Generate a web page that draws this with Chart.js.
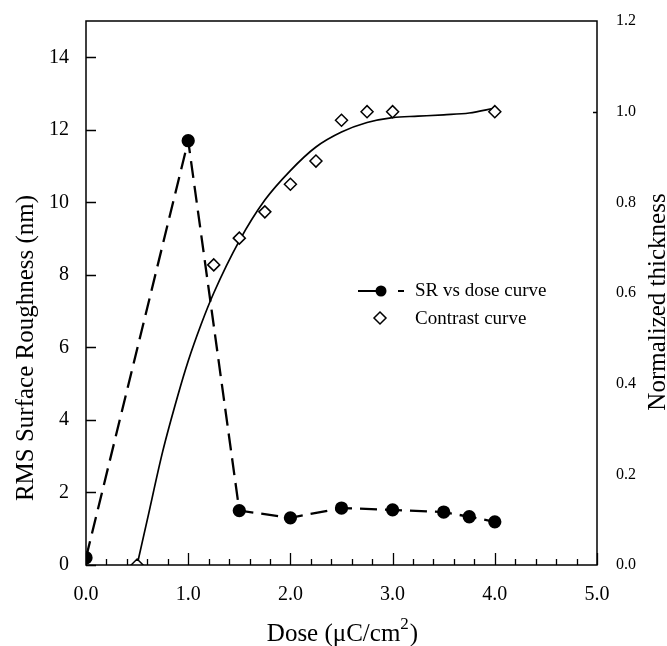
<!DOCTYPE html>
<html>
<head>
<meta charset="utf-8">
<script src="https://cdn.jsdelivr.net/npm/chart.js@4.4.1/dist/chart.umd.min.js"></script>
<style>
  body { margin: 0; background: #fff; }
  #wrap { width: 667px; height: 646px; }
</style>
</head>
<body>
<div id="wrap"><canvas id="chart"></canvas></div>
<script>
// SR vs dose (left axis, nm)
var srDose = [0.0, 1.0, 1.5, 2.0, 2.5, 3.0, 3.5, 3.75, 4.0];
var srValues = [0.2, 11.7, 1.5, 1.3, 1.57, 1.52, 1.46, 1.33, 1.19];
// contrast curve points (right axis, normalized thickness)
var contrastDose = [0.5, 1.25, 1.5, 1.75, 2.0, 2.25, 2.5, 2.75, 3.0, 4.0];
var contrastValues = [0.0, 0.662, 0.721, 0.779, 0.84, 0.891, 0.981, 1.0, 1.0, 1.0];
// fitted contrast line
var fitDose = [0.5, 0.6, 0.75, 0.9, 1.0, 1.125, 1.25, 1.5, 1.75, 2.0, 2.25, 2.5, 2.75, 3.0, 3.25, 3.5, 3.75, 4.0];
var fitValues = [0.0, 0.1, 0.25, 0.375, 0.45, 0.53, 0.6, 0.715, 0.805, 0.87, 0.922, 0.955, 0.976, 0.987, 0.99, 0.993, 0.997, 1.008];
// tick labels
var xTicks = [0, 1, 2, 3, 4, 5];
var leftTicks = [0, 2, 4, 6, 8, 10, 12, 14];
var rightTicks = [0, 0.2, 0.4, 0.6, 0.8, 1.0, 1.2];

var FONT = "'Liberation Serif', 'Times New Roman', serif";

function pts(xs, ys) {
    return xs.map(function (x, i) { return { x: x, y: ys[i] }; });
}

// inward tick marks + box around the plot
var frame = {
    id: 'frame',
    afterDatasetsDraw: function (chart) {
        var c = chart.ctx, a = chart.chartArea;
        var sx = chart.scales.x, sy = chart.scales.y, sy2 = chart.scales.y2;
        c.save();
        c.strokeStyle = '#000';
        c.lineWidth = 1.5;
        c.strokeRect(a.left, a.top, a.right - a.left, a.bottom - a.top);
        c.lineWidth = 1.3;
        c.beginPath();
        for (var i = 0; i <= 25; i++) {
            var px = Math.round(sx.getPixelForValue(i * 0.2)) + 0.5;
            var len = (i % 5 === 0) ? 12 : 6;
            c.moveTo(px, a.bottom);
            c.lineTo(px, a.bottom - len);
        }
        leftTicks.forEach(function (v) {
            var py = Math.round(sy.getPixelForValue(v)) + 0.5;
            c.moveTo(a.left, py);
            c.lineTo(a.left + 10, py);
        });
        var p1 = Math.round(sy2.getPixelForValue(1.0)) + 0.5;
        c.moveTo(a.right, p1);
        c.lineTo(a.right - 4, p1);
        c.stroke();
        c.restore();
    }
};

// axis titles and legend drawn as canvas text
var labels = {
    id: 'labels',
    afterDraw: function (chart) {
        var c = chart.ctx;
        c.save();
        c.fillStyle = '#000';
        c.strokeStyle = '#000';

        // left title
        c.font = '25px ' + FONT;
        c.textAlign = 'center';
        c.textBaseline = 'alphabetic';
        c.save();
        c.translate(33, 348);
        c.rotate(-Math.PI / 2);
        c.fillText('RMS Surface Roughness (nm)', 0, 0);
        c.restore();

        // right title
        c.save();
        c.translate(665, 302);
        c.rotate(-Math.PI / 2);
        c.fillText('Normalized thickness', 0, 0);
        c.restore();

        // bottom title with superscript
        var t1 = 'Dose (\u03BCC/cm', t2 = '2', t3 = ')';
        c.textAlign = 'left';
        c.font = '25px ' + FONT;
        var w1 = c.measureText(t1).width, w3 = c.measureText(t3).width;
        c.font = '17px ' + FONT;
        var w2 = c.measureText(t2).width;
        var x0 = 342 - (w1 + w2 + w3) / 2;
        c.font = '25px ' + FONT;
        c.fillText(t1, x0, 641);
        c.font = '17px ' + FONT;
        c.fillText(t2, x0 + w1, 629);
        c.font = '25px ' + FONT;
        c.fillText(t3, x0 + w1 + w2 + 1, 641);

        // legend
        c.lineWidth = 2.2;
        c.beginPath();
        c.moveTo(358, 291);
        c.lineTo(378, 291);
        c.moveTo(398, 291);
        c.lineTo(404, 291);
        c.stroke();
        c.beginPath();
        c.arc(381, 291, 5.5, 0, Math.PI * 2);
        c.fill();
        c.lineWidth = 1.5;
        c.fillStyle = '#fff';
        c.beginPath();
        c.moveTo(380, 312);
        c.lineTo(386, 318);
        c.lineTo(380, 324);
        c.lineTo(374, 318);
        c.closePath();
        c.fill();
        c.stroke();
        c.fillStyle = '#000';
        c.font = '19px ' + FONT;
        c.fillText('SR vs dose curve', 415, 296);
        c.fillText('Contrast curve', 415, 324);
        c.restore();
    }
};

var ctx = document.getElementById('chart').getContext('2d');
var chart = new Chart(ctx, {
    type: 'scatter',
    data: {
        datasets: [{
            label: 'Contrast curve',
            data: pts(contrastDose, contrastValues),
            yAxisID: 'y2',
            showLine: false,
            pointStyle: 'rectRot',
            pointRadius: 6,
            pointBackgroundColor: '#fff',
            pointBorderColor: '#000',
            pointBorderWidth: 1.5,
            order: 0
        },
        {
            label: 'SR vs dose curve',
            data: pts(srDose, srValues),
            yAxisID: 'y',
            showLine: true,
            borderColor: '#000',
            borderWidth: 2.3,
            borderDash: [17, 8],
            pointRadius: 5.5,
            pointBackgroundColor: '#000',
            pointBorderColor: '#000',
            tension: 0,
            order: 1
        },
        {
            label: 'fit',
            data: pts(fitDose, fitValues),
            yAxisID: 'y2',
            showLine: true,
            borderColor: '#000',
            borderWidth: 1.7,
            pointRadius: 0,
            cubicInterpolationMode: 'monotone',
            order: 2
        }]
    },
    options: {
        responsive: true,
        maintainAspectRatio: false,
        animation: false,
        layout: { padding: { top: 19, left: 0, right: 0, bottom: 0 } },
        plugins: { legend: { display: false }, tooltip: { enabled: false } },
        scales: {
            x: {
                type: 'linear', min: 0, max: 5,
                afterBuildTicks: function (s) { s.ticks = xTicks.map(function (v) { return { value: v }; }); },
                afterFit: function (s) { s.height = 81; },
                grid: { display: false },
                border: { display: false },
                ticks: {
                    padding: 10, maxRotation: 0, autoSkip: false, color: '#000',
                    font: { family: FONT, size: 20 },
                    callback: function (v) { return Number(v).toFixed(1); }
                }
            },
            y: {
                type: 'linear', position: 'left', min: 0, max: 15,
                afterBuildTicks: function (s) { s.ticks = leftTicks.map(function (v) { return { value: v }; }); },
                afterFit: function (s) { s.width = 86; },
                grid: { display: false },
                border: { display: false },
                ticks: {
                    padding: 9, color: '#000',
                    font: { family: FONT, size: 20 },
                    callback: function (v) { return String(v); }
                }
            },
            y2: {
                type: 'linear', position: 'right', min: 0, max: 1.2,
                afterBuildTicks: function (s) { s.ticks = rightTicks.map(function (v) { return { value: v }; }); },
                afterFit: function (s) { s.width = 70; },
                grid: { display: false },
                border: { display: false },
                ticks: {
                    padding: 11, color: '#000',
                    font: { family: FONT, size: 16 },
                    callback: function (v) { return Number(v).toFixed(1); }
                }
            }
        }
    },
    plugins: [frame, labels]
});
</script>
</body>
</html>
